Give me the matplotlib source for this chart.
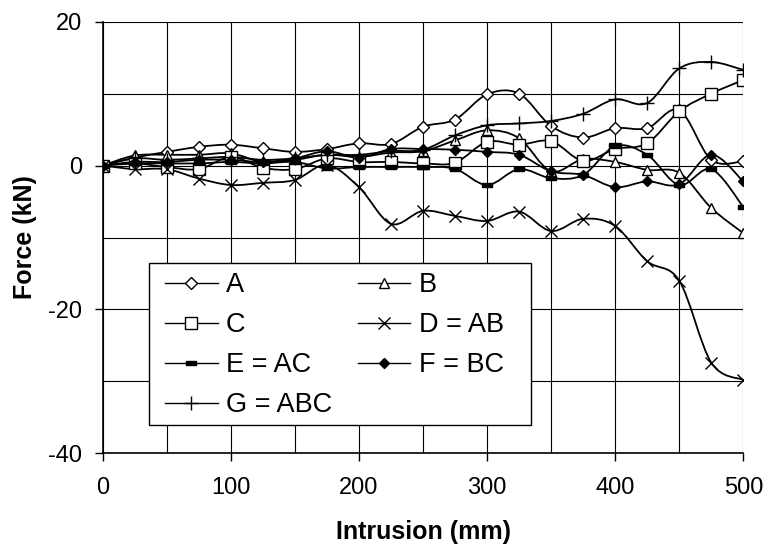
import numpy as np
import matplotlib
matplotlib.use('Agg')
import matplotlib.pyplot as plt
from matplotlib.path import Path
from matplotlib.patches import PathPatch, Rectangle
from matplotlib.lines import Line2D

plt.rcParams['font.family'] = ['Liberation Sans', 'DejaVu Sans']
plt.rcParams['axes.unicode_minus'] = False

# intrusion (mm) and force (kN) per configuration
intrusion = [0, 25, 50, 75, 100, 125, 150, 175, 200, 225, 250,
             275, 300, 325, 350, 375, 400, 425, 450, 475, 500]
A = [0, 1.1, 1.9, 2.6, 2.9, 2.4, 1.9, 2.3, 3.1, 3.0, 5.4,
     6.4, 9.9, 10.0, 5.5, 3.9, 5.2, 5.2, 7.7, 0.8, 0.6]
B = [0, 1.4, 1.5, 1.5, 1.7, 0.5, 0.8, 1.5, 1.2, 1.8, 2.0,
     3.5, 4.9, 3.8, -0.8, 0.9, 0.5, -0.6, -1.0, -5.9, -9.4]
C = [0, 0.3, -0.2, -0.5, 1.2, -0.3, -0.5, 1.0, 0.5, 0.5, 0.3,
     0.4, 3.3, 2.9, 3.4, 0.65, 2.3, 3.1, 7.55, 10.0, 11.9]
D = [0, -0.5, -0.5, -1.8, -2.7, -2.4, -2.0, 0.1, -3.0, -8.1, -6.3,
     -7.0, -7.7, -6.4, -9.1, -7.4, -8.4, -13.3, -16.0, -27.4, -29.8]
E = [0, 0.3, 0.3, 0.3, 0.5, 0.3, 0.5, -0.4, -0.2, -0.2, -0.2,
     -0.45, -2.7, -0.5, -1.75, -1.3, 2.7, 1.5, -2.7, -0.5, -5.75]
F = [0, 0.5, 0.5, 0.8, 0.8, 0.5, 1.0, 2.0, 1.1, 2.3, 2.3,
     2.2, 1.9, 1.5, -0.8, -1.3, -3.0, -2.2, -2.6, 1.5, -2.2]
G = [0, 1.0, 0.8, 1.0, 1.2, 0.8, 1.0, 1.5, 1.5, 2.0, 2.2,
     4.2, 5.6, 5.85, 6.2, 7.2, 9.2, 8.7, 13.5, 14.4, 13.3]

labels = ['A', 'B', 'C', 'D = AB', 'E = AC', 'F = BC', 'G = ABC']
series = [A, B, C, D, E, F, G]

# small flat bar marker for E
bar = Path([(-1, -0.45), (1, -0.45), (1, 0.45), (-1, 0.45), (-1, -0.45)],
           [Path.MOVETO, Path.LINETO, Path.LINETO, Path.LINETO, Path.CLOSEPOLY])
styles = [dict(marker='D', ms=5.8, mfc='white'),
          dict(marker='^', ms=7.5, mfc='white'),
          dict(marker='s', ms=8, mfc='white'),
          dict(marker='x', ms=9, mfc='k'),
          dict(marker=bar, ms=7, mfc='k'),
          dict(marker='D', ms=5.5, mfc='k'),
          dict(marker='+', ms=10.5, mfc='k')]


def smooth(xs, ys):
    # excel-like smoothed line: bezier through every point
    p = np.column_stack([xs, ys]).astype(float)
    verts = [p[0]]
    codes = [Path.MOVETO]
    n = len(p)
    for i in range(n - 1):
        p0 = p[i - 1] if i > 0 else p[i]
        p3 = p[i + 2] if i + 2 < n else p[i + 1]
        verts += [p[i] + (p[i + 1] - p0) / 6, p[i + 1] - (p3 - p[i]) / 6, p[i + 1]]
        codes += [Path.CURVE4] * 3
    return Path(verts, codes)


fig = plt.figure(figsize=(7.66, 5.47), dpi=100)
ax = fig.add_axes([102.7 / 766, 1 - 453.3 / 547, 640.6 / 766, 431.6 / 547])

handles = []
for y, lab, st in zip(series, labels, styles):
    ax.add_patch(PathPatch(smooth(intrusion, y), facecolor='none',
                           edgecolor='k', lw=1.3, zorder=3))
    ax.plot(intrusion, y, ls='none', color='k', mec='k', mew=1.0,
            zorder=4, **st)
    handles.append(Line2D([], [], color='k', lw=1.0, mec='k', mew=1.0, **st))

ax.set_xlim(0, 500)
ax.set_ylim(-40, 20)
ax.set_xticks(range(0, 501, 100))
ax.set_xticks(range(0, 501, 50), minor=True)
ax.set_yticks([-40, -20, 0, 20])
ax.set_yticks(range(-40, 21, 10), minor=True)
ax.grid(True, which='both', color='k', lw=0.8)
ax.set_axisbelow(True)
ax.tick_params(which='major', direction='out', length=6, width=1,
               labelsize=17, pad=9)
ax.tick_params(axis='x', which='major', pad=11)
ax.tick_params(which='minor', length=0)
for s in ['top', 'right']:
    ax.spines[s].set_visible(False)
for s in ['left', 'bottom']:
    ax.spines[s].set_linewidth(1.2)

ax.set_xlabel('Intrusion (mm)', fontsize=18, fontweight='bold', labelpad=15)
ax.set_ylabel('Force (kN)', fontsize=18, fontweight='bold', labelpad=7.5)

# legend box
ax.add_patch(Rectangle((0.0723, 0.0656), 0.5963, 0.3754, transform=ax.transAxes,
                       facecolor='white', edgecolor='k', lw=1.0, zorder=5))
order = [0, 2, 4, 6, 1, 3, 5]
leg = ax.legend([handles[i] for i in order], [labels[i] for i in order],
                ncol=2, loc='upper left', bbox_to_anchor=(0.097, 0.42),
                frameon=False, fontsize=19.5, borderpad=0, borderaxespad=0,
                handlelength=1.95, handletextpad=0.3, columnspacing=0.95,
                labelspacing=0.52)
leg.set_zorder(6)

fig.savefig('out.png', dpi=100)
